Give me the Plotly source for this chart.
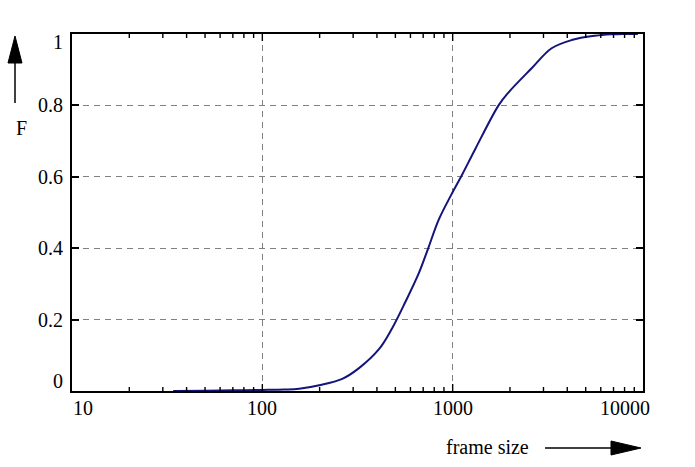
import numpy as np
import plotly.graph_objects as go

# cumulative distribution of frame sizes
frame_size = [34, 50, 70, 100, 130, 156, 199, 263, 322, 410, 481, 565, 664, 743,
              845, 984, 1119, 1315, 1742, 1963, 2600, 3310, 4215, 5590, 6830, 8000, 9400]
F = [0.0, 0.001, 0.002, 0.003, 0.004, 0.006, 0.016, 0.034, 0.064, 0.117, 0.176, 0.250, 0.330, 0.399,
     0.480, 0.550, 0.605, 0.678, 0.800, 0.836, 0.904, 0.960, 0.983, 0.995, 0.999, 1.0, 1.0]

x_ticks = [10, 100, 1000, 10000]
x_tick_text = ["10", "100", "1000", "10000"]
x_minor = [m * 10 ** p for p in (1, 2, 3) for m in range(2, 10)]
y_ticks = [0, 0.2, 0.4, 0.6, 0.8, 1]
y_tick_text = ["0", "0.2", "0.4", "0.6", "0.8", "1"]

X_RANGE = [1, 4]  # log10 of 10 .. 10000

FONT = dict(family="Liberation Serif, Times New Roman, serif", size=20, color="black")
W, H = 695, 467
L, R, T, B = 72, 52, 34, 76
PW, PH = W - L - R, H - T - B


def px(x, y):
    # pixel position -> paper coords
    return (x - L) / PW, (H - B - y) / PH


def xpaper(v):
    return (np.log10(v) - X_RANGE[0]) / (X_RANGE[1] - X_RANGE[0])


fig = go.Figure()
fig.add_trace(go.Scatter(x=frame_size, y=F, mode="lines",
                         line=dict(color="#14147a", width=2, shape="spline", smoothing=1.0),
                         showlegend=False, hoverinfo="skip"))

axis_common = dict(showline=True, linecolor="black", linewidth=2, mirror=True,
                   showticklabels=False, zeroline=False,
                   showgrid=True, gridcolor="#808080", gridwidth=1, griddash="6px,5px")

fig.update_xaxes(type="log", range=X_RANGE, tickmode="array", tickvals=x_ticks[1:3],
                 ticks="", **axis_common)
fig.update_yaxes(range=[0, 1], tickmode="array", tickvals=y_ticks, ticks="inside",
                 ticklen=7, tickwidth=1.5, tickcolor="black", **axis_common)
fig.update_yaxes(mirror="ticks")

shapes = []
# x ticks (major + minor), bottom and top, drawn as short lines
for v, ln in [(v, 7) for v in x_ticks[1:3]] + [(v, 4) for v in x_minor]:
    h = ln / PH
    xp = xpaper(v)
    for y0, y1 in [(0, h), (1, 1 - h)]:
        shapes.append(dict(type="line", xref="paper", yref="paper", x0=xp, x1=xp,
                           y0=y0, y1=y1, line=dict(color="black", width=1.4)))

ann = []
x_shift = {10: 11, 10000: -18}
for v, t in zip(x_ticks, x_tick_text):
    ann.append(dict(x=np.log10(v), xref="x", y=0, yref="paper", yanchor="top", yshift=-4,
                    xanchor="center", xshift=x_shift.get(v, 0), text=t, showarrow=False,
                    font=FONT))
y_shift = {0: 10, 1: -8}
for v, t in zip(y_ticks, y_tick_text):
    ann.append(dict(x=0, xref="paper", xanchor="right", xshift=-7, y=v, yref="y",
                    yanchor="middle", yshift=y_shift.get(v, 0), text=t, showarrow=False,
                    font=FONT))

fx, fy = px(21, 128)
ann.append(dict(x=fx, y=fy, xref="paper", yref="paper", xanchor="center", yanchor="middle",
                text="F", showarrow=False, font=FONT))
tx, ty = px(487, 447)
ann.append(dict(x=tx, y=ty, xref="paper", yref="paper", xanchor="center", yanchor="middle",
                text="frame size", showarrow=False, font=FONT))

# vertical arrow (F)
x0, y0 = px(15, 103)
x1, y1 = px(15, 60)
shapes.append(dict(type="line", xref="paper", yref="paper", x0=x0, y0=y0, x1=x1, y1=y1,
                   line=dict(color="black", width=1.5)))
a, b = px(15, 36)
c, d = px(8, 63)
e, f = px(22, 63)
shapes.append(dict(type="path", xref="paper", yref="paper",
                   path=f"M {a} {b} L {c} {d} L {e} {f} Z", fillcolor="black",
                   line=dict(color="black", width=1)))
# horizontal arrow (frame size)
x0, y0 = px(545, 448)
x1, y1 = px(615, 448)
shapes.append(dict(type="line", xref="paper", yref="paper", x0=x0, y0=y0, x1=x1, y1=y1,
                   line=dict(color="black", width=1.5)))
a, b = px(641, 448)
c, d = px(611, 441)
e, f = px(611, 455)
shapes.append(dict(type="path", xref="paper", yref="paper",
                   path=f"M {a} {b} L {c} {d} L {e} {f} Z", fillcolor="black",
                   line=dict(color="black", width=1)))

fig.update_layout(width=W, height=H, margin=dict(l=L, r=R, t=T, b=B),
                  plot_bgcolor="white", paper_bgcolor="white", font=FONT,
                  annotations=ann, shapes=shapes, hovermode=False)

fig.write_html("out.html", config={"displayModeBar": False},
               post_script="document.body.style.margin='0';")
